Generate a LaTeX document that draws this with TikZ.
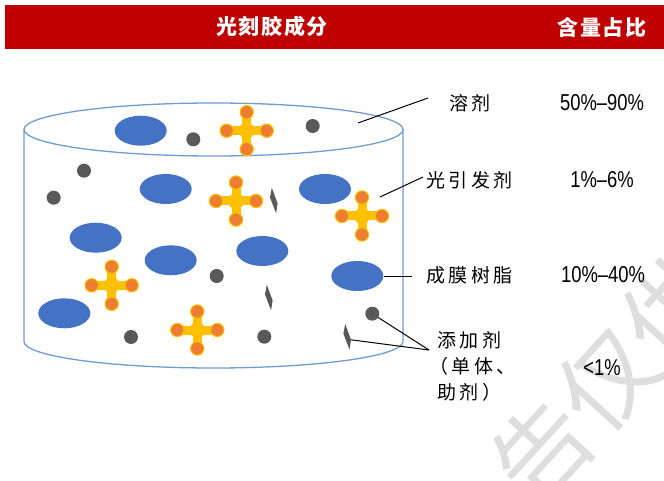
\documentclass[tikz,border=0pt]{standalone}
\usepackage{fontspec}
\setmainfont{Liberation Sans}
\newfontfamily\cjk{Noto Sans CJK SC}
\newfontfamily\cjklab[LetterSpace=18]{Noto Sans CJK SC}
\newfontfamily\cjkhead[LetterSpace=8]{Noto Sans CJK SC}
\newfontfamily\pctfont[FakeStretch=0.8]{Liberation Sans}
\usetikzlibrary{shapes.geometric}

\definecolor{barred}{HTML}{C00000}
\definecolor{cylblue}{HTML}{6F9CD3}
\definecolor{resinblue}{HTML}{4472C4}
\definecolor{dotgray}{HTML}{595959}
\definecolor{pigorange}{HTML}{ED7D31}
\definecolor{pigyellow}{HTML}{FFC000}
\definecolor{wmgray}{HTML}{DEDEDE}

\tikzset{
  cyl/.style={draw=cylblue, line width=1.3pt},
  resin/.style={ellipse, fill=resinblue, minimum width=52pt, minimum height=30pt, inner sep=0pt},
  particle/.style={circle, fill=dotgray, minimum size=14pt, inner sep=0pt},
  leader/.style={draw=black, line width=1pt},
  headtext/.style={text=white, font=\cjkhead\bfseries\fontsize{21}{21}\selectfont},
  lab/.style={anchor=west, inner sep=0pt, font=\cjklab\fontsize{19}{26}\selectfont},
  pct/.style={inner sep=0pt, font=\pctfont\fontsize{23}{23}\selectfont},
  initiator/.pic={
    \draw[pigyellow, line width=9pt] (-20,0) -- (20,0) (0,-18.5) -- (0,18.5);
    \fill[pigyellow] (0,0) circle (8pt);
    \foreach \p in {(-20,0),(20,0),(0,-18.5),(0,18.5)}
      \filldraw[fill=pigorange, draw=pigyellow, line width=1pt] \p circle (6.7pt);
  },
  additive/.pic={
    \fill[dotgray] (-2,-12.8) -- (3.8,3) -- (2.3,12.8) -- (-3.8,-3) -- cycle;
    \coordinate (-tip) at (3.8,3);
  }
}

\begin{document}
\begin{tikzpicture}[x=1pt, y=-1pt]
  \useasboundingbox (0,0) rectangle (664,481);
  \fill[white] (0,0) rectangle (664,481);

  % watermark
  \begin{scope}
    \clip (0,0) rectangle (664,481);
    \node[text=wmgray, rotate=47.5, inner sep=0pt, font=\cjk\fontsize{96}{96}\selectfont] (wm) at (607,380) {告仅供};
  \end{scope}

  % header bar
  \fill[barred] (5,5) rectangle (664,49);
  \node[headtext] (h1) at (272,27) {光刻胶成分};
  \node[headtext] (h2) at (602,27) {含量占比};

  % container
  \draw[cyl] (213.5,129.5) ellipse [x radius=189.5pt, y radius=26.5pt];
  \draw[cyl] (24,129.5) -- (24,341.5)
        arc[start angle=180, end angle=360, x radius=189.5pt, y radius=26.5pt]
        -- (403,129.5);

  % film-forming resin
  \node[resin] (r1) at (140.7,130.7) {};
  \node[resin] (r2) at (165.7,189) {};
  \node[resin] (r3) at (325,189) {};
  \node[resin] (r4) at (95.7,237.7) {};
  \node[resin] (r5) at (170.7,260.3) {};
  \node[resin] (r6) at (262.3,251) {};
  \node[resin] (r7) at (357.3,276) {};
  \node[resin] (r8) at (64.3,313.3) {};

  % small additive particles
  \node[particle] (p1) at (193.3,139.3) {};
  \node[particle] (p2) at (312.7,126) {};
  \node[particle] (p3) at (84,170.7) {};
  \node[particle] (p4) at (53.7,197.7) {};
  \node[particle] (p5) at (216.7,276) {};
  \node[particle] (p6) at (372.3,313.7) {};
  \node[particle] (p7) at (131,337) {};
  \node[particle] (p8) at (264.3,336.7) {};

  % photoinitiators
  \pic (i1) at (246.7,130.7) {initiator};
  \pic (i2) at (236,201) {initiator};
  \pic (i3) at (362,216) {initiator};
  \pic (i4) at (111.7,285.3) {initiator};
  \pic (i5) at (197.3,330) {initiator};

  % monomer flakes
  \pic (d1) at (273.8,200.5) {additive};
  \pic (d2) at (268.8,297.5) {additive};
  \pic (d3) at (347.2,336.8) {additive};

  % labels
  \node[lab] (lsolv) at (449,103) {溶剂};
  \node[lab] (linit) at (426,180) {光引发剂};
  \node[lab] (lresin) at (426,275) {成膜树脂};
  \node[lab, anchor=north west, align=left] (ladd) at (437,331) {添加剂\\\kern-8pt（单体、\\助剂）};

  \node[pct] (v1) at (602,103) {50\%–90\%};
  \node[pct] (v2) at (602,180) {1\%–6\%};
  \node[pct] (v3) at (603,275) {10\%–40\%};
  \node[pct] (v4) at (602,368) {<1\%};

  % leader lines
  \coordinate (solvin) at (358,123);
  \coordinate (solvout) at (428,98);
  \coordinate (initin) at (380,197);
  \coordinate (initout) at (423,177);
  \coordinate (resinout) at (412,276);
  \coordinate (addjoin) at (429,350);
  \draw[leader] (solvin) -- (solvout);
  \draw[leader] (initin) -- (initout);
  \draw[leader] (r7.east) -- (resinout);
  \draw[leader] (p6) -- (addjoin);
  \draw[leader] (d3-tip) -- (addjoin);
\end{tikzpicture}
\end{document}
